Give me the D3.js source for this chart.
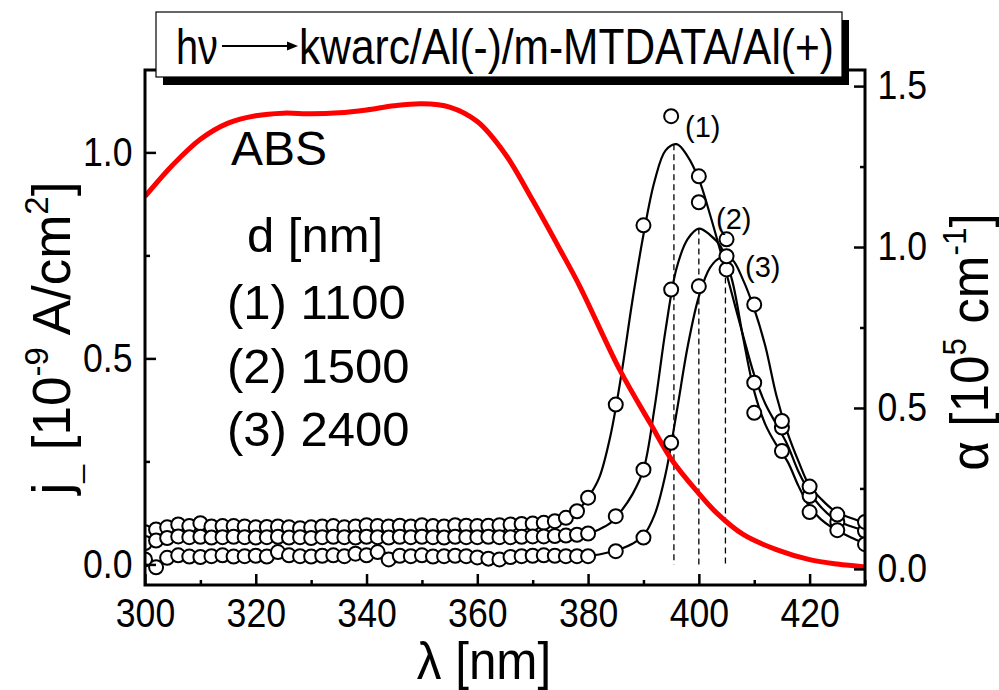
<!DOCTYPE html>
<html><head><meta charset="utf-8">
<script src="https://cdn.jsdelivr.net/npm/d3@7/dist/d3.min.js"></script>
<style>
body{margin:0;background:#fff}
svg{display:block}
text{font-family:"Liberation Sans",Arial,Helvetica,sans-serif;fill:#000}
</style>
</head><body>
<svg id="chart" width="999" height="690"></svg>
<script>
// ---------- data ----------
const xTicks = [300,320,340,360,380,400,420];
const xMinorTicks = [310,330,350,370,390,410,430];
const leftTicks = [0.0,0.5,1.0];
const leftMinorTicks = [0.25,0.75];
const rightTicks = [0.0,0.5,1.0,1.5];
const rightMinorTicks = [0.25,0.75,1.25];

const lambdaDots = [300,302,304,306,308,310,312,314,316,318,320,322,324,326,328,330,332,334,336,338,340,342,344,346,348,350,352,354,356,358,360,362,364,366,368,370,372,374,376,378,380,385,390,395,400,405,410,415,420,425,430];
const dots1 = [0.078,0.085,0.090,0.097,0.093,0.100,0.092,0.093,0.093,0.092,0.090,0.091,0.092,0.090,0.088,0.090,0.092,0.093,0.090,0.092,0.095,0.093,0.092,0.094,0.092,0.095,0.093,0.092,0.095,0.094,0.093,0.094,0.095,0.097,0.098,0.099,0.101,0.105,0.113,0.129,0.162,0.388,0.823,1.088,0.942,0.716,0.441,0.332,0.166,0.103,0.081];
const dots2 = [0.052,0.058,0.064,0.068,0.066,0.067,0.065,0.066,0.067,0.066,0.065,0.066,0.067,0.065,0.066,0.064,0.066,0.067,0.066,0.065,0.067,0.066,0.065,0.067,0.066,0.067,0.066,0.065,0.067,0.066,0.066,0.067,0.066,0.066,0.067,0.068,0.068,0.069,0.070,0.072,0.075,0.117,0.230,0.667,0.879,0.789,0.368,0.275,0.127,0.083,0.049];
const dots3 = [0.012,-0.007,0.016,0.022,0.019,0.018,0.020,0.022,0.019,0.020,0.021,0.019,0.030,0.022,0.020,0.019,0.021,0.022,0.020,0.026,0.022,0.030,0.012,0.021,0.020,0.022,0.019,0.020,0.021,0.020,0.017,0.014,0.012,0.018,0.020,0.021,0.022,0.021,0.020,0.020,0.020,0.032,0.065,0.295,0.675,0.748,0.631,0.348,0.189,0.121,0.103];

// fitted (smooth) curves in the peak region
const fitLambda = [380,382,384,386,388,390,392,394,396,398,400,402,404,406,408,410,412,414,416,418,420,422,424,426,428,430];
const fit1 = [0.162,0.21,0.31,0.46,0.64,0.80,0.93,1.005,1.02,0.99,0.935,0.85,0.755,0.655,0.555,0.46,0.39,0.34,0.29,0.225,0.175,0.14,0.115,0.10,0.09,0.082];
const fit2 = [0.075,0.085,0.10,0.13,0.17,0.23,0.38,0.57,0.72,0.79,0.815,0.80,0.77,0.69,0.55,0.42,0.34,0.29,0.25,0.19,0.14,0.11,0.09,0.075,0.062,0.05];
const fit3 = [0.020,0.024,0.030,0.038,0.050,0.070,0.12,0.22,0.37,0.53,0.65,0.72,0.745,0.74,0.69,0.62,0.53,0.41,0.32,0.25,0.19,0.16,0.135,0.12,0.11,0.10];

const peakLambda = [395.5,400,404.8];
const peakValue = [1.02,0.815,0.745];
const peakLabels = ["(1)","(2)","(3)"];

// absorption (right axis)
const absLambda = [300,305,310,315,320,325,330,335,340,345,350,355,360,365,370,375,378.5,385.7,391.2,395.1,399.9,403.2,408,414,420,425,430];
const absValue = [1.157,1.255,1.335,1.385,1.408,1.416,1.414,1.417,1.426,1.439,1.445,1.435,1.39,1.29,1.145,0.99,0.878,0.619,0.453,0.339,0.236,0.174,0.107,0.060,0.029,0.015,0.006];

const legendLines = ["d [nm]","(1) 1100","(2) 1500","(3) 2400"];

// ---------- layout ----------
const svg = d3.select("#chart");
const P = {l:145, r:865, t:70, b:585};
const x = d3.scaleLinear().domain([300,430]).range([P.l,P.r]);
const yL = d3.scaleLinear().domain([-0.05,1.2]).range([P.b,P.t]);
const yR = d3.scaleLinear().domain([-0.05,1.55]).range([P.b,P.t]);

svg.append("defs").append("clipPath").attr("id","clip")
  .append("rect").attr("x",P.l).attr("y",P.t).attr("width",P.r-P.l).attr("height",P.b-P.t);

const plot = svg.append("g").attr("clip-path","url(#clip)");

const line = d3.line().x(d=>x(d[0])).y(d=>yL(d[1])).curve(d3.curveCatmullRom.alpha(0.5));
const series = [[dots1,fit1],[dots2,fit2],[dots3,fit3]];
series.forEach(([dv,fv])=>{
  const pts = [];
  lambdaDots.forEach((l,i)=>{ if(l<380) pts.push([l,dv[i]]); });
  fitLambda.forEach((l,i)=>pts.push([l,fv[i]]));
  plot.append("path").attr("d",line(pts)).attr("fill","none").attr("stroke","#000").attr("stroke-width",2.2);
});

// dashed peak markers
peakLambda.forEach((l,i)=>{
  plot.append("line").attr("x1",x(l)).attr("x2",x(l)).attr("y1",yL(peakValue[i])).attr("y2",yL(0))
    .attr("stroke","#000").attr("stroke-width",1.3).attr("stroke-dasharray","6,4");
});

// absorption line
const absLine = d3.line().x(d=>x(d[0])).y(d=>yR(d[1])).curve(d3.curveCatmullRom.alpha(0.5));
plot.append("path").attr("d",absLine(absLambda.map((l,i)=>[l,absValue[i]])))
  .attr("fill","none").attr("stroke","#ff0000").attr("stroke-width",5).attr("stroke-linejoin","round");

// dots
[dots1,dots2,dots3].forEach(dv=>{
  plot.selectAll(null).data(lambdaDots.map((l,i)=>[l,dv[i]])).join("circle")
    .attr("cx",d=>x(d[0])).attr("cy",d=>yL(d[1])).attr("r",7)
    .attr("fill","#fff").attr("stroke","#000").attr("stroke-width",2);
});

// ---------- axes ----------
svg.append("rect").attr("x",P.l).attr("y",P.t).attr("width",P.r-P.l).attr("height",P.b-P.t)
  .attr("fill","none").attr("stroke","#000").attr("stroke-width",3);

function styleAxis(g, sx){
  g.select(".domain").remove();
  g.selectAll(".tick line").attr("stroke","#000").attr("stroke-width",2.5);
  g.selectAll(".tick text").attr("font-size",40).attr("font-family","Liberation Sans, Arial, sans-serif")
    .attr("fill","#000").attr("transform",`scale(${sx},1)`);
}
const gx = svg.append("g").attr("transform",`translate(0,${P.b})`)
  .call(d3.axisBottom(x).tickValues(xTicks).tickSize(-11).tickPadding(14).tickFormat(d3.format("d")));
styleAxis(gx,0.89);
const gxm = svg.append("g").attr("transform",`translate(0,${P.b})`)
  .call(d3.axisBottom(x).tickValues(xMinorTicks).tickSize(-5).tickFormat(""));
styleAxis(gxm,1);

const gl = svg.append("g").attr("transform",`translate(${P.l},0)`)
  .call(d3.axisLeft(yL).tickValues(leftTicks).tickSize(-11).tickPadding(14).tickFormat(d3.format(".1f")));
styleAxis(gl,0.89);
const glm = svg.append("g").attr("transform",`translate(${P.l},0)`)
  .call(d3.axisLeft(yL).tickValues(leftMinorTicks).tickSize(-5).tickFormat(""));
styleAxis(glm,1);

const gr = svg.append("g").attr("transform",`translate(${P.r},0)`)
  .call(d3.axisRight(yR).tickValues(rightTicks).tickSize(-11).tickPadding(14).tickFormat(d3.format(".1f")));
styleAxis(gr,0.89);
const grm = svg.append("g").attr("transform",`translate(${P.r},0)`)
  .call(d3.axisRight(yR).tickValues(rightMinorTicks).tickSize(-5).tickFormat(""));
styleAxis(grm,1);

// axis titles
svg.append("text").attr("transform","translate(484,679) scale(0.95,1)").attr("text-anchor","middle")
  .attr("font-size",52).text("λ [nm]");

const lt = svg.append("text").attr("transform","translate(70,338) rotate(-90)")
  .attr("text-anchor","middle").attr("font-size",53);
lt.append("tspan").text("j");
lt.append("tspan").attr("font-size",32).attr("dy",9).text("_");
lt.append("tspan").attr("dy",-9).text(" [10");
lt.append("tspan").attr("font-size",33).attr("dy",-22).text("-9");
lt.append("tspan").attr("dy",22).text(" A/cm");
lt.append("tspan").attr("font-size",33).attr("dy",-22).text("2");
lt.append("tspan").attr("dy",22).text("]");

const rt = svg.append("text").attr("transform","translate(988,342) rotate(-90) scale(0.95,1)")
  .attr("text-anchor","middle").attr("font-size",54);
rt.append("tspan").text("α [10");
rt.append("tspan").attr("font-size",33).attr("dy",-22).text("5");
rt.append("tspan").attr("dy",22).text(" cm");
rt.append("tspan").attr("font-size",33).attr("dy",-22).text("-1");
rt.append("tspan").attr("dy",22).text("]");

// annotations
svg.append("text").attr("x",231).attr("y",165).attr("font-size",48).text("ABS");
const legY = [252,319,383,446];
const legX = [247,227,227,227];
legendLines.forEach((t,i)=>{
  svg.append("text").attr("x",legX[i]).attr("y",legY[i]).attr("font-size",49).text(t);
});
const plx = [685,716,745], ply = [137,229,277];
peakLabels.forEach((t,i)=>{
  svg.append("text").attr("x",plx[i]).attr("y",ply[i]).attr("font-size",29).text(t);
});

// title box
svg.append("rect").attr("x",163).attr("y",20).attr("width",686).attr("height",65).attr("fill","#000");
svg.append("rect").attr("x",156).attr("y",12).attr("width",686).attr("height",65)
  .attr("fill","#fff").attr("stroke","#000").attr("stroke-width",1.2);

function fitText(str, x0, y0, size, width){
  const t = svg.append("text").attr("font-size",size).text(str);
  const w = t.node().getComputedTextLength();
  t.attr("transform",`translate(${x0},${y0}) scale(${width/w},1)`);
  return t;
}
fitText("hν",176,64,50,42);
svg.append("line").attr("x1",222).attr("x2",289).attr("y1",46).attr("y2",46).attr("stroke","#000").attr("stroke-width",2);
svg.append("path").attr("d","M287,41.5 L298,46 L287,50.5 Z").attr("fill","#000");
fitText("kwarc/Al(-)/m-MTDATA/Al(+)",299,64,50,535);
</script>
</body></html>
